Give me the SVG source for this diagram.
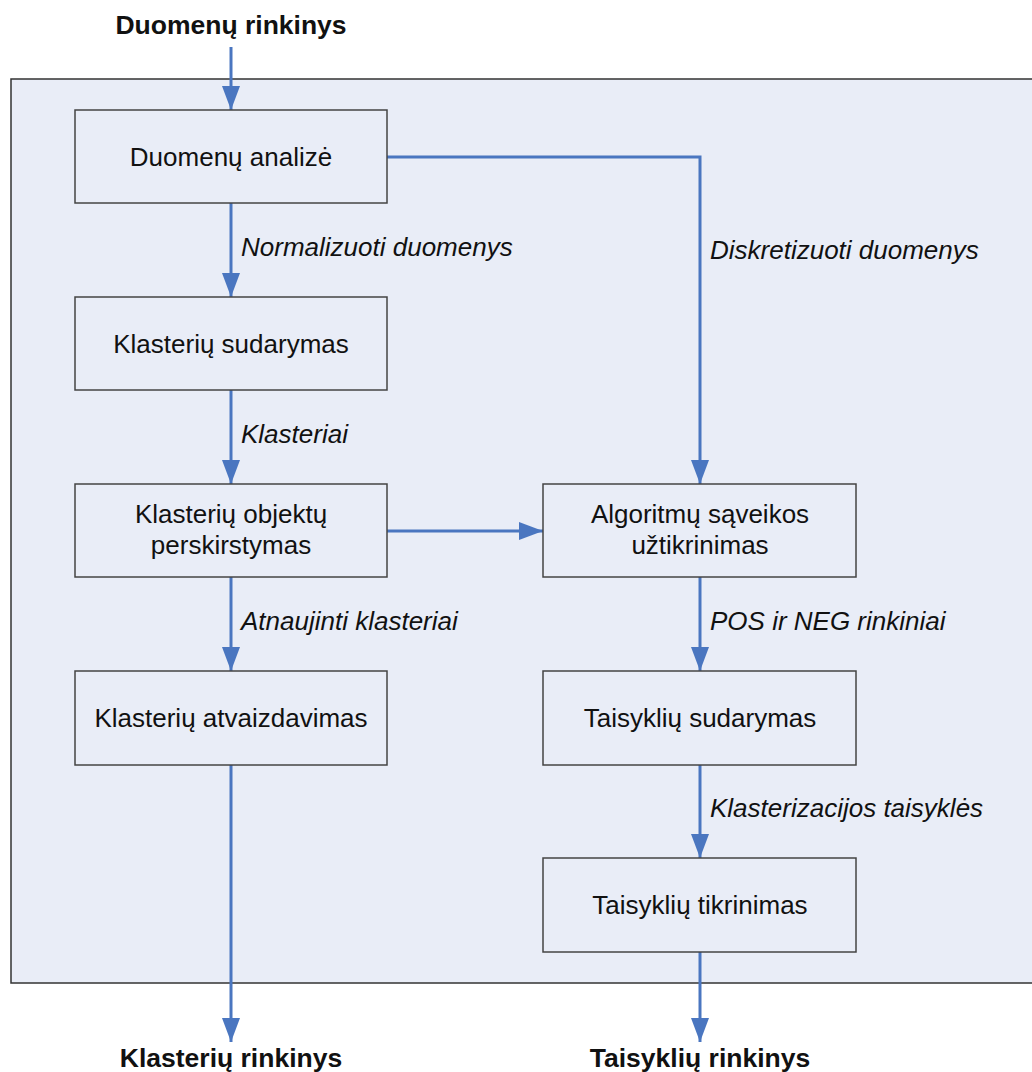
<svg xmlns="http://www.w3.org/2000/svg" width="1032" height="1072" viewBox="0 0 1032 1072">
<defs>
<style>
.box{fill:#e9edf7;stroke:#444;stroke-width:1.5}
.nt{font-family:"Liberation Sans",Arial,sans-serif;font-size:26px;fill:#111;text-anchor:middle}
.lb{font-family:"Liberation Sans",Arial,sans-serif;font-size:26px;font-style:italic;fill:#111}
.io{font-family:"Liberation Sans",Arial,sans-serif;font-size:26.5px;font-weight:bold;fill:#111;text-anchor:middle}
.cn{fill:none;stroke:#4a76c0;stroke-width:3;marker-end:url(#ah)}
</style>
<marker id="ah" markerWidth="24" markerHeight="18" refX="24" refY="9" orient="auto" markerUnits="userSpaceOnUse" viewBox="0 0 24 18">
<path d="M0,0 L24,9 L0,18 Z" fill="#4a76c0"/>
</marker>
</defs>
<rect width="1032" height="1072" fill="#fff"/>
<rect id="container" x="11" y="79" width="1030" height="904" fill="#e9edf7" stroke="#333" stroke-width="1.5"/>
<g id="connectors">
<path class="cn" d="M231,47 V110"/>
<path class="cn" d="M231,203 V297"/>
<path class="cn" d="M387,157 H700 V484"/>
<path class="cn" d="M231,390 V484"/>
<path class="cn" d="M387,531 H543"/>
<path class="cn" d="M231,577 V671"/>
<path class="cn" d="M700,577 V671"/>
<path class="cn" d="M700,765 V858"/>
<path class="cn" d="M231,765 V1042"/>
<path class="cn" d="M700,952 V1042"/>
</g>
<g id="labels">
<text class="lb" x="241" y="256">Normalizuoti duomenys</text>
<text class="lb" x="710" y="259">Diskretizuoti duomenys</text>
<text class="lb" x="241" y="443">Klasteriai</text>
<text class="lb" x="241" y="630">Atnaujinti klasteriai</text>
<text class="lb" x="710" y="630">POS ir NEG rinkiniai</text>
<text class="lb" x="710" y="817">Klasterizacijos taisyklės</text>
</g>
<g id="in"><text class="io" x="231" y="34">Duomenų rinkinys</text></g>
<g id="n1"><rect class="box" x="75" y="110" width="312" height="93"/><text class="nt" x="231" y="166">Duomenų analizė</text></g>
<g id="n2"><rect class="box" x="75" y="297" width="312" height="93"/><text class="nt" x="231" y="353">Klasterių sudarymas</text></g>
<g id="n3"><rect class="box" x="75" y="484" width="312" height="93"/><text class="nt" x="231" y="523">Klasterių objektų</text><text class="nt" x="231" y="554">perskirstymas</text></g>
<g id="n4"><rect class="box" x="75" y="671" width="312" height="94"/><text class="nt" x="231" y="727">Klasterių atvaizdavimas</text></g>
<g id="n5"><rect class="box" x="543" y="484" width="313" height="93"/><text class="nt" x="700" y="523">Algoritmų sąveikos</text><text class="nt" x="700" y="554">užtikrinimas</text></g>
<g id="n6"><rect class="box" x="543" y="671" width="313" height="94"/><text class="nt" x="700" y="727">Taisyklių sudarymas</text></g>
<g id="n7"><rect class="box" x="543" y="858" width="313" height="94"/><text class="nt" x="700" y="914">Taisyklių tikrinimas</text></g>
<g id="out1"><text class="io" x="231" y="1067">Klasterių rinkinys</text></g>
<g id="out2"><text class="io" x="700" y="1067">Taisyklių rinkinys</text></g>
</svg>
